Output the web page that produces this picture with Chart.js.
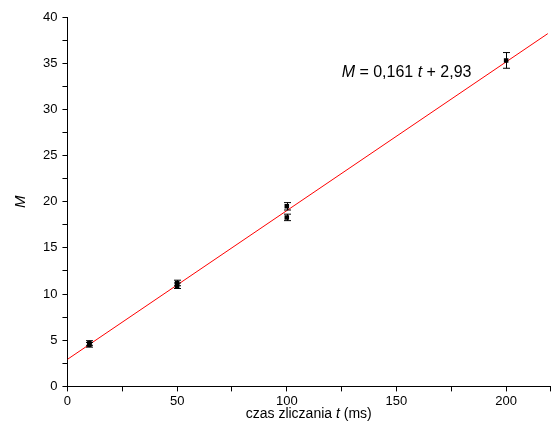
<!DOCTYPE html>
<html>
<head>
<meta charset="utf-8">
<script src="https://cdn.jsdelivr.net/npm/chart.js@4/dist/chart.umd.min.js"></script>
<style>
  body { margin: 0; background: #fff; }
  #wrap { width: 559px; height: 441px; }
</style>
</head>
<body>
<div id="wrap"><canvas id="c" width="559" height="441"></canvas></div>
<script>
// measured points (czas zliczania t, M, error)
var pointT = [10, 10, 50, 50, 100, 100, 200];
var pointM = [4.5, 4.7, 10.9, 11.2, 19.5, 18.3, 35.3];
var pointErr = [0.25, 0.25, 0.3, 0.3, 0.4, 0.35, 0.85];

// fitted line end points
var fitT = [0, 219];
var fitM = [2.93, 38.2];

var FONT = 'Liberation Sans, Arial, sans-serif';

function drawParts(ctx, parts, x, y, size, align) {
    var w = 0, j;
    for (j = 0; j < parts.length; j++) {
        ctx.font = (parts[j][1] ? 'italic ' : '') + size + 'px ' + FONT;
        w += ctx.measureText(parts[j][0]).width;
    }
    if (align === 'center') x -= w / 2;
    for (j = 0; j < parts.length; j++) {
        ctx.font = (parts[j][1] ? 'italic ' : '') + size + 'px ' + FONT;
        ctx.fillText(parts[j][0], x, y);
        x += ctx.measureText(parts[j][0]).width;
    }
}

var errorBars = {
    id: 'errorBars',
    afterDatasetsDraw: function (chart) {
        var ctx = chart.ctx;
        var xs = chart.scales.x, ys = chart.scales.y;
        var area = chart.chartArea;
        ctx.save();
        ctx.strokeStyle = '#000';
        ctx.lineWidth = 1;
        for (var i = 0; i < pointT.length; i++) {
            var px = Math.round(xs.getPixelForValue(pointT[i])) + 0.5;
            var top = ys.getPixelForValue(pointM[i] + pointErr[i]);
            var bot = ys.getPixelForValue(pointM[i] - pointErr[i]);
            ctx.beginPath();
            ctx.moveTo(px, top); ctx.lineTo(px, bot);
            ctx.moveTo(px - 3.5, top); ctx.lineTo(px + 3.5, top);
            ctx.moveTo(px - 3.5, bot); ctx.lineTo(px + 3.5, bot);
            ctx.stroke();
        }
        ctx.fillStyle = '#000';
        ctx.textBaseline = 'middle';
        // equation label
        drawParts(ctx, [['M', true], [' = 0,161 ', false], ['t', true], [' + 2,93', false]],
            xs.getPixelForValue(125), ys.getPixelForValue(34.0), 16, 'left');
        // x axis title
        drawParts(ctx, [['czas zliczania ', false], ['t', true], [' (ms)', false]],
            (area.left + area.right) / 2, area.bottom + 28, 14, 'center');
        ctx.restore();
    }
};

new Chart(document.getElementById('c'), {
    type: 'scatter',
    data: {
        datasets: [{
            type: 'line',
            order: 2,
            data: fitT.map(function (t, i) { return {x: t, y: fitM[i]}; }),
            borderColor: '#ff0000',
            borderWidth: 1,
            pointRadius: 0,
            fill: false
        }, {
            order: 1,
            data: pointT.map(function (t, i) { return {x: t, y: pointM[i]}; }),
            pointStyle: 'rect',
            pointRadius: 3.2,
            backgroundColor: '#000',
            borderColor: '#000',
            borderWidth: 0
        }]
    },
    options: {
        responsive: false,
        animation: false,
        layout: { padding: { top: 17, right: 9, left: 12, bottom: 30 } },
        plugins: { legend: { display: false }, tooltip: { enabled: false } },
        scales: {
            x: {
                type: 'linear',
                min: 0, max: 220,
                grid: { drawOnChartArea: false, tickLength: 5, color: '#000' },
                border: { color: '#000', width: 1 },
                ticks: {
                    stepSize: 25, color: '#000', padding: 2, maxRotation: 0,
                    font: { family: FONT, size: 13 },
                    callback: function (v) { return v % 50 === 0 ? v : ''; }
                }
            },
            y: {
                min: 0, max: 40,
                grid: { drawOnChartArea: false, tickLength: 5, color: '#000' },
                border: { color: '#000', width: 1 },
                ticks: {
                    stepSize: 2.5, color: '#000', padding: 5,
                    font: { family: FONT, size: 13 },
                    callback: function (v) { return v % 5 === 0 ? v : ''; }
                },
                title: {
                    display: true,
                    text: 'M',
                    color: '#000',
                    font: { family: FONT, size: 15, style: 'italic' },
                    padding: { top: 0, bottom: 8 }
                }
            }
        }
    },
    plugins: [errorBars]
});
</script>
</body>
</html>
